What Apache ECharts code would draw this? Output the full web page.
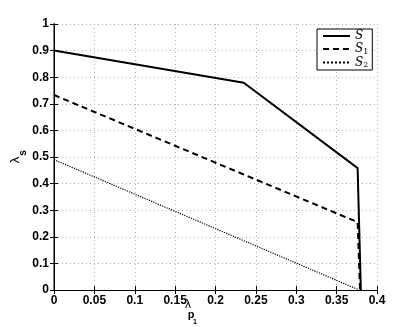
<!DOCTYPE html>
<html>
<head>
<meta charset="utf-8">
<script src="https://cdn.jsdelivr.net/npm/echarts@6/dist/echarts.min.js"></script>
<style>
html, body { margin: 0; padding: 0; background: #fff; }
#chart { width: 415px; height: 327px; }
</style>
</head>
<body>
<div id="chart"></div>
<script>
// values
var sPoints = [[0, 0.9], [0.235, 0.779], [0.376, 0.458], [0.380, 0]]
var s1Points = [[0, 0.733], [0.376, 0.255], [0.379, 0]]
var s2Points = [[0, 0.49], [0.378, 0]]
var xTicks = [0, 0.05, 0.1, 0.15, 0.2, 0.25, 0.3, 0.35, 0.4]
var yTicks = [0, 0.1, 0.2, 0.3, 0.4, 0.5, 0.6, 0.7, 0.8, 0.9, 1]

var chart = echarts.init(document.getElementById('chart'))

var font = 'Liberation Sans, Arial, sans-serif'
var labelStyle = { color: '#000', fontFamily: font, fontWeight: 'bold', fontSize: 12 }
var gridLine = { show: true, lineStyle: { color: '#b0b0b0', type: [1, 3], width: 1 } }

function fmt(v) {
	return xTicks.indexOf(v) >= 0 || yTicks.indexOf(v) >= 0 ? String(v) : ''
}

function lineSerie(name, data, type) {
	return {
		name: name,
		type: 'line',
		data: data,
		symbol: 'none',
		animation: false,
		color: '#000',
		itemStyle: { color: '#000' },
		lineStyle: { color: '#000', width: type === 'dotted' ? 1.2 : 2, type: type },
	}
}

function txt(x, y, text, size, bold, rot) {
	return {
		type: 'text',
		x: x,
		y: y,
		rotation: rot || 0,
		z: 100,
		style: {
			text: text,
			fontFamily: font,
			fontSize: size,
			fontWeight: bold ? 'bold' : 'normal',
			fill: '#000',
			align: 'center',
			verticalAlign: 'middle',
		},
	}
}

var option = {
	backgroundColor: '#fff',
	animation: false,
	grid: { left: 54, right: 38, top: 24, bottom: 37 },
	legend: {
		orient: 'vertical',
		left: 317,
		top: 29,
		itemWidth: 27,
		itemHeight: 10,
		itemGap: 1,
		padding: [1, 4, 1, 5],
		borderColor: '#000',
		borderWidth: 1,
		backgroundColor: '#fff',
		selectedMode: false,
		itemStyle: { opacity: 0 },
		data: ['S', 'S1', 'S2'],
		formatter: function (name) {
			if (name === 'S') return '{m|S}'
			return '{m|S}{sub|' + name.slice(1) + '}'
		},
		textStyle: {
			rich: {
				m: { fontFamily: 'DejaVu Serif, serif', fontStyle: 'italic', fontSize: 12, color: '#000', height: 10 },
				sub: { fontFamily: 'DejaVu Serif, serif', fontSize: 8, color: '#000', height: 10, verticalAlign: 'bottom', padding: [5, 0, 0, 0] },
			},
		},
	},
	xAxis: [
		{
			type: 'value', min: 0, max: 0.4, interval: 0.05,
			axisLine: { show: true, onZero: false, lineStyle: { color: '#000', width: 1 } },
			axisTick: { show: true, inside: true, length: 4, lineStyle: { color: '#000' } },
			axisLabel: Object.assign({ formatter: fmt, margin: 5 }, labelStyle),
			splitLine: gridLine,
		},
		{
			type: 'value', min: 0, max: 0.4, interval: 0.05, position: 'top',
			axisLine: { show: true, lineStyle: { color: '#000', width: 1 } },
			axisTick: { show: true, inside: true, length: 4, lineStyle: { color: '#000' } },
			axisLabel: { show: false },
			splitLine: { show: false },
		},
	],
	yAxis: [
		{
			type: 'value', min: 0, max: 1, interval: 0.1,
			axisLine: { show: true, onZero: false, lineStyle: { color: '#808080', width: 2 } },
			axisTick: { show: true, inside: true, length: 4, lineStyle: { color: '#000' } },
			axisLabel: Object.assign({ formatter: fmt, margin: 5 }, labelStyle),
			splitLine: gridLine,
		},
		{
			type: 'value', min: 0, max: 1, interval: 0.1, position: 'right',
			axisLine: { show: true, lineStyle: { color: '#000', width: 1 } },
			axisTick: { show: true, inside: true, length: 4, lineStyle: { color: '#000' } },
			axisLabel: { show: false },
			splitLine: { show: false },
		},
	],
	graphic: [
		// x axis name: lambda with p_1 subscript
		txt(188, 305, 'λ', 12, false),
		txt(191, 315, 'p', 11, true),
		txt(195, 322, '1', 7, true),
		// y axis name: lambda_s, reading upward
		txt(15, 160, 'λ', 13, false, Math.PI / 2),
		txt(23, 153, 's', 10, true, Math.PI / 2),
	],
	series: [
		lineSerie('S', sPoints, 'solid'),
		lineSerie('S1', s1Points, [6, 4]),
		lineSerie('S2', s2Points, 'dotted'),
	],
}

chart.setOption(option)
</script>
</body>
</html>
